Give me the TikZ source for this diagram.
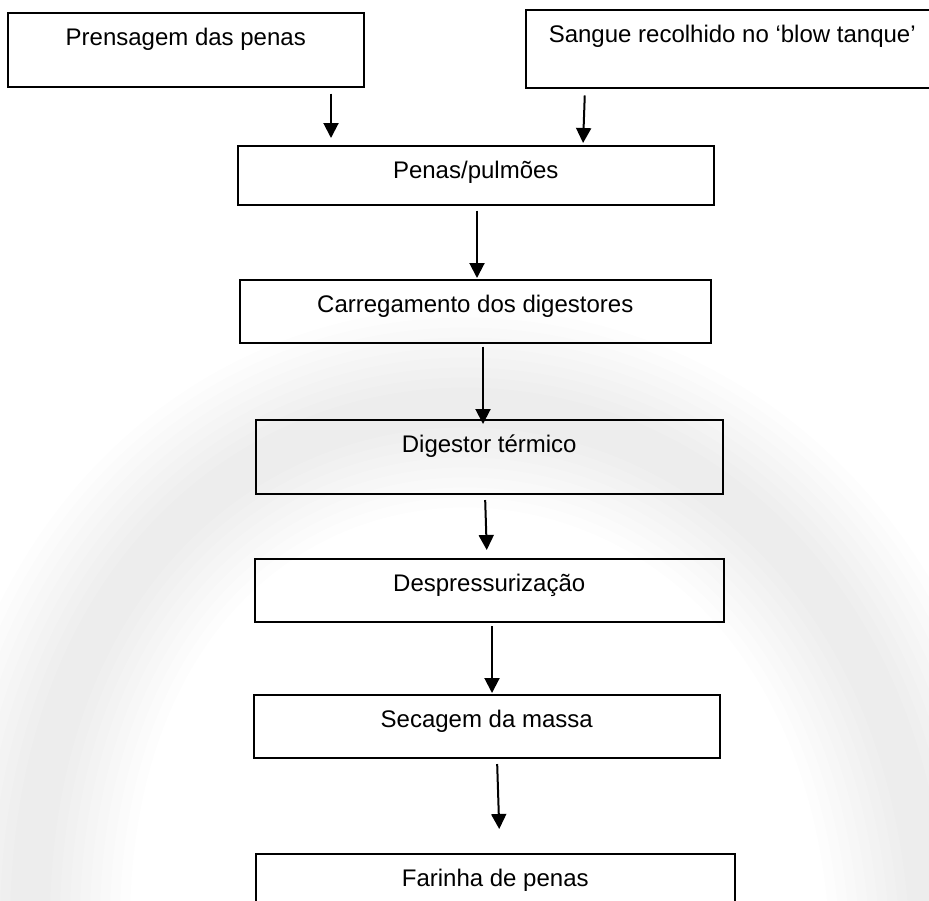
\documentclass[tikz,border=0pt]{standalone}
\usepackage{fontspec}
\setmainfont{Liberation Sans}
\usetikzlibrary{arrows.meta}

\tikzset{
  box/.style={draw=black, line width=0.75pt, rectangle, inner sep=0pt, anchor=north west},
  boxtext/.style={anchor=base, inner sep=0pt, font=\fontsize{12pt}{14pt}\selectfont},
  flow/.style={draw=black, line width=1pt, -{Triangle[length=7.5pt,width=7.5pt]}},
  shade/.style={line cap=round, draw=black, opacity=0.007}
}

% box with its caption: name, left, top, right, bottom, caption
\newcommand{\stepbox}[6]{%
  \path (#2,#3) coordinate (#1nw) (#4,#5) coordinate (#1se);
  \node[box, minimum width={(#4-#2)*0.5pt}, minimum height={(#5-#3)*0.5pt}] (#1) at (#1nw) {};
  \node[boxtext] (#1t) at ([yshift=-16.75pt]#1.north) {#6};
}

\begin{document}
\begin{tikzpicture}[x=0.5pt, y=-0.5pt]
  \useasboundingbox (0,0) rectangle (929,900);
  \fill[white] (0,0) rectangle (929,900);

  % faint background arch
  \begin{scope}
    \clip (0,0) rectangle (929,900);
    \foreach \w in {40,60,...,200}{
      \draw[shade, line width=\w*0.5pt]
        (30,940) .. controls (20,230) and (900,230) .. (930,940);
    }
  \end{scope}

  \stepbox{A}{7}{12}{363}{86}{Prensagem das penas}
  \stepbox{B}{525}{9}{938}{87}{Sangue recolhido no ‘blow tanque’}
  \stepbox{C}{237}{145}{713}{204}{Penas/pulmões}
  \stepbox{D}{239}{279}{710}{342}{Carregamento dos digestores}
  \stepbox{E}{255}{419}{722}{493}{Digestor térmico}
  \stepbox{F}{254}{558}{723}{621}{Despressurização}
  \stepbox{G}{253}{694}{719}{757}{Secagem da massa}
  \stepbox{H}{255}{853}{734}{910}{Farinha de penas}

  % arrow columns
  \coordinate (xa) at (331,0);
  \coordinate (xb1) at (585,0);
  \coordinate (xb2) at (583,0);
  \coordinate (xc) at (477,0);
  \coordinate (xd) at (483,0);
  \coordinate (xe1) at (485,0);
  \coordinate (xe2) at (487,0);
  \coordinate (xf) at (492,0);
  \coordinate (xg1) at (497,0);
  \coordinate (xg2) at (500,0);

  \draw[flow, shorten <=3pt, shorten >=3.5pt] (A.south -| xa) -- (C.north -| xa);
  \draw[flow, shorten <=3.5pt, shorten >=1pt] (B.south -| xb1) -- (C.north -| xb2);
  \draw[flow, shorten <=2.5pt, shorten >=0.5pt] (C.south -| xc) -- (D.north -| xc);
  \draw[flow, shorten <=1.5pt, shorten >=-2.5pt] (D.south -| xd) -- (E.north -| xd);
  \draw[flow, shorten <=2.75pt, shorten >=4pt] (E.south -| xe1) -- (F.north -| xe2);
  \draw[flow, shorten <=1.75pt, shorten >=0.5pt] (F.south -| xf) -- (G.north -| xf);
  \draw[flow, shorten <=2.75pt, shorten >=12pt] (G.south -| xg1) -- (H.north -| xg2);
\end{tikzpicture}
\end{document}
